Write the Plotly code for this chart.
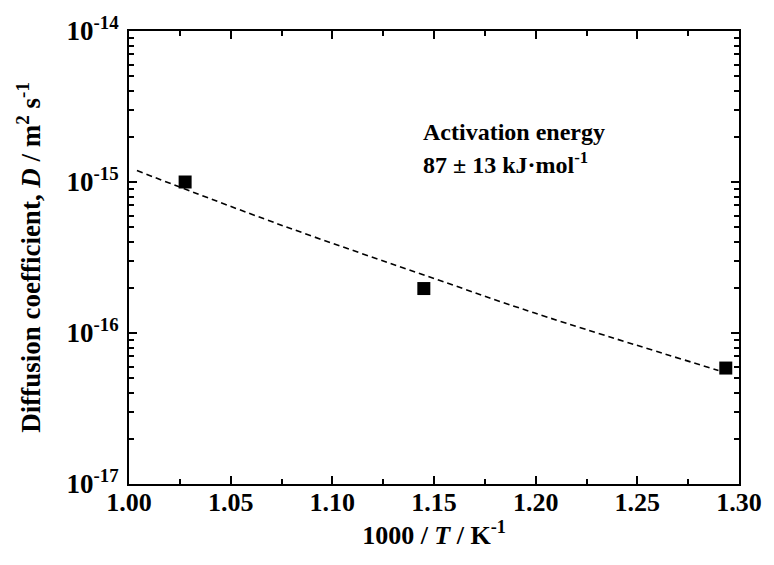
import plotly.graph_objects as go

# measured data
inv_T = [1.0276, 1.1450, 1.2935]
D = [1.0e-15, 1.97e-16, 5.86e-17]

# Arrhenius fit line
fit_x = [1.0039, 1.0732, 1.1507, 1.1992, 1.2899]
fit_y = [1.19e-15, 5.28e-16, 2.28e-16, 1.36e-16, 5.65e-17]

x_ticks = [1.00, 1.05, 1.10, 1.15, 1.20, 1.25, 1.30]
x_ticktext = ["1.00", "1.05", "1.10", "1.15", "1.20", "1.25", "1.30"]
y_ticks = [1e-17, 1e-16, 1e-15, 1e-14]
y_ticktext = ["10<sup>-17</sup>", "10<sup>-16</sup>", "10<sup>-15</sup>", "10<sup>-14</sup>"]
y_decades = [1e-17, 1e-16, 1e-15]
y_minor_digits = [2, 3, 4, 5, 6, 7, 8, 9]
y_minor = [d * k for d in y_decades for k in y_minor_digits]

FONT = "Liberation Serif"
NB = "\u00a0"

fig = go.Figure()
fig.add_trace(go.Scatter(x=fit_x, y=fit_y, mode="lines",
                         line=dict(color="black", width=1.6, dash="6px,4px", shape="spline"),
                         showlegend=False))
fig.add_trace(go.Scatter(x=inv_T, y=D, mode="markers",
                         marker=dict(symbol="square", size=13, color="black"),
                         showlegend=False))

fig.add_annotation(x=1.1435, y=-14.666, xref="x", yref="y", text="Activation energy",
                   showarrow=False, xanchor="left", yanchor="middle",
                   font=dict(family=FONT, size=24, color="black", weight="bold"))
fig.add_annotation(x=1.1435, y=-14.877, xref="x", yref="y", text="87 ± 13 kJ·mol<sup>-1</sup>",
                   showarrow=False, xanchor="left", yanchor="middle",
                   font=dict(family=FONT, size=24, color="black", weight="bold"))

fig.update_layout(
    width=774, height=565,
    margin=dict(l=129, r=26, t=29, b=81),
    paper_bgcolor="white", plot_bgcolor="white",
    font=dict(family=FONT, color="black", weight="bold"),
    xaxis=dict(
        range=[1.00, 1.30], tickvals=x_ticks, ticktext=x_ticktext,
        showline=True, linecolor="black", linewidth=2, mirror="ticks",
        ticks="inside", ticklen=8, tickwidth=1.5, tickcolor="black",
        minor=dict(ticks="inside", dtick=0.025, ticklen=5, tickwidth=1.5, tickcolor="black"),
        showgrid=False, zeroline=False, ticklabelstandoff=-6, automargin=True,
        tickfont=dict(family=FONT, size=26, color="black", weight="bold"),
        title=dict(text=f"1000{NB}/{NB}<i>T</i>{NB}/{NB}K<sup>-1</sup>", standoff=2,
                   font=dict(family=FONT, size=26, color="black", weight="bold")),
    ),
    yaxis=dict(
        type="log", range=[-17, -14], tickvals=y_ticks, ticktext=y_ticktext,
        showline=True, linecolor="black", linewidth=2, mirror="ticks",
        ticks="inside", ticklen=8, tickwidth=1.5, tickcolor="black",
        minor=dict(ticks="inside", tickvals=y_minor, ticklen=5, tickwidth=1.5, tickcolor="black"),
        showgrid=False, zeroline=False, ticklabelstandoff=3,
        tickfont=dict(family=FONT, size=27, color="black", weight="bold"),
        title=dict(text="Diffusion coefficient, <i>D</i> / m<sup>2</sup> s<sup>-1</sup>", standoff=18,
                   font=dict(family=FONT, size=27, color="black", weight="bold")),
    ),
)

fig.write_html("out.html")
